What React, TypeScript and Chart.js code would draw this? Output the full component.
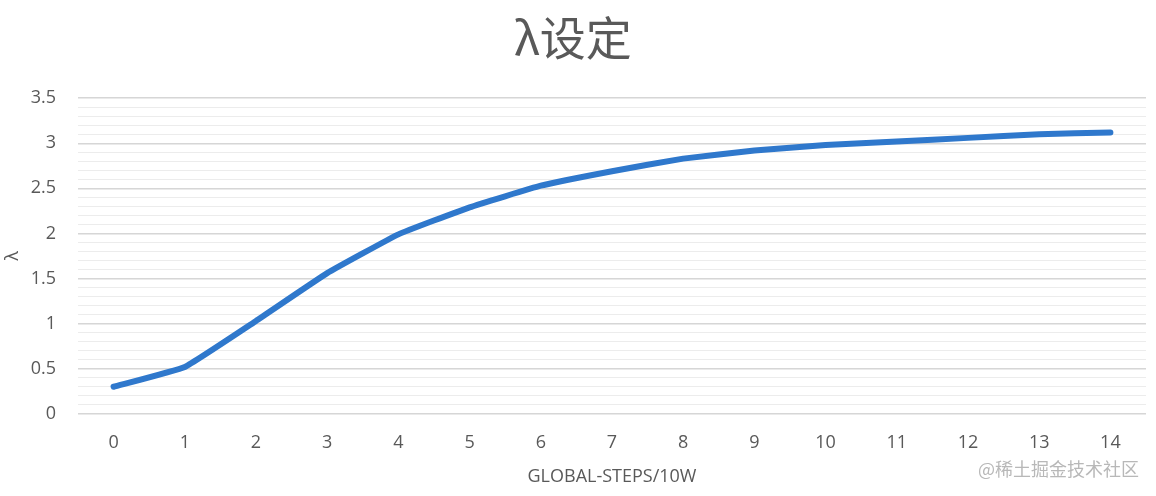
import React, { useEffect, useRef } from 'react';
import { Chart, registerables } from 'chart.js';

Chart.register(...registerables);

// data
const steps = ['0', '1', '2', '3', '4', '5', '6', '7', '8', '9', '10', '11', '12', '13', '14'];
const lambdaValues = [0.3, 0.52, 1.03, 1.56, 1.99, 2.29, 2.53, 2.69, 2.83, 2.92, 2.98, 3.02, 3.06, 3.1, 3.12];
const yMin = 0;
const yMax = 3.5;
const yStep = 0.1;
const yLabelStep = 0.5;

const TEXT = '#595959';
const FONT = '"Open Sans", "Noto Sans", sans-serif';

const isMajor = (v: number) => Math.abs(v / yLabelStep - Math.round(v / yLabelStep)) < 1e-6;

const LambdaChart = () => {
  const canvasRef = useRef<HTMLCanvasElement>(null);

  useEffect(() => {
    if (!canvasRef.current) return;
    const chart = new Chart(canvasRef.current, {
      type: 'line',
      data: {
        labels: steps,
        datasets: [
          {
            label: 'λ',
            data: lambdaValues,
            borderColor: '#2f78cc',
            borderWidth: 6,
            borderCapStyle: 'round',
            borderJoinStyle: 'round',
            pointRadius: 0,
            tension: 0.1,
            fill: false,
          },
        ],
      },
      options: {
        animation: false,
        responsive: true,
        maintainAspectRatio: false,
        layout: { padding: { left: 0, right: 10, bottom: 8, top: 0 } },
        plugins: {
          legend: { display: false },
          tooltip: { enabled: false },
          title: {
            display: true,
            text: 'λ设定',
            color: TEXT,
            font: { family: '"Noto Sans CJK SC", sans-serif', size: 46, weight: 'normal', lineHeight: 1.2 },
            padding: { top: 10, bottom: 33 },
          },
        },
        scales: {
          x: {
            offset: true,
            grid: { display: false },
            border: { display: false },
            ticks: { color: TEXT, font: { family: FONT, size: 18 }, padding: 10 },
            title: {
              display: true,
              text: 'GLOBAL-STEPS/10W',
              color: TEXT,
              font: { family: FONT, size: 18 },
              padding: { top: 3, bottom: 0 },
            },
          },
          y: {
            min: yMin,
            max: yMax,
            border: { display: false },
            afterFit: (scale) => {
              scale.width = 78;
            },
            grid: {
              drawTicks: false,
              color: (ctx) => (isMajor(ctx.tick.value) ? '#d6d6d6' : '#ececec'),
              lineWidth: (ctx) => (isMajor(ctx.tick.value) ? 1.5 : 1),
            },
            ticks: {
              stepSize: yStep,
              autoSkip: false,
              color: TEXT,
              font: { family: FONT, size: 18 },
              padding: 22,
              callback: (value) => {
                const v = Number(value);
                return isMajor(v) ? String(Math.round(v * 10) / 10) : '';
              },
            },
            title: {
              display: true,
              text: 'λ',
              color: TEXT,
              font: { family: FONT, size: 18 },
              padding: { top: 2, bottom: 0 },
            },
          },
        },
      },
    });
    return () => chart.destroy();
  }, []);

  return <canvas ref={canvasRef} />;
};

const App = () => {
  return (
    <div style={{ position: 'absolute', left: 0, top: 0, width: 1156, height: 496, background: '#fff' }}>
      <LambdaChart />
      <div
        style={{
          position: 'absolute',
          left: 978,
          top: 455,
          fontFamily: '"Noto Sans CJK SC", sans-serif',
          fontSize: 18,
          color: '#b8b8b8',
          whiteSpace: 'nowrap',
        }}
      >
        @稀土掘金技术社区
      </div>
    </div>
  );
};

export default App;
